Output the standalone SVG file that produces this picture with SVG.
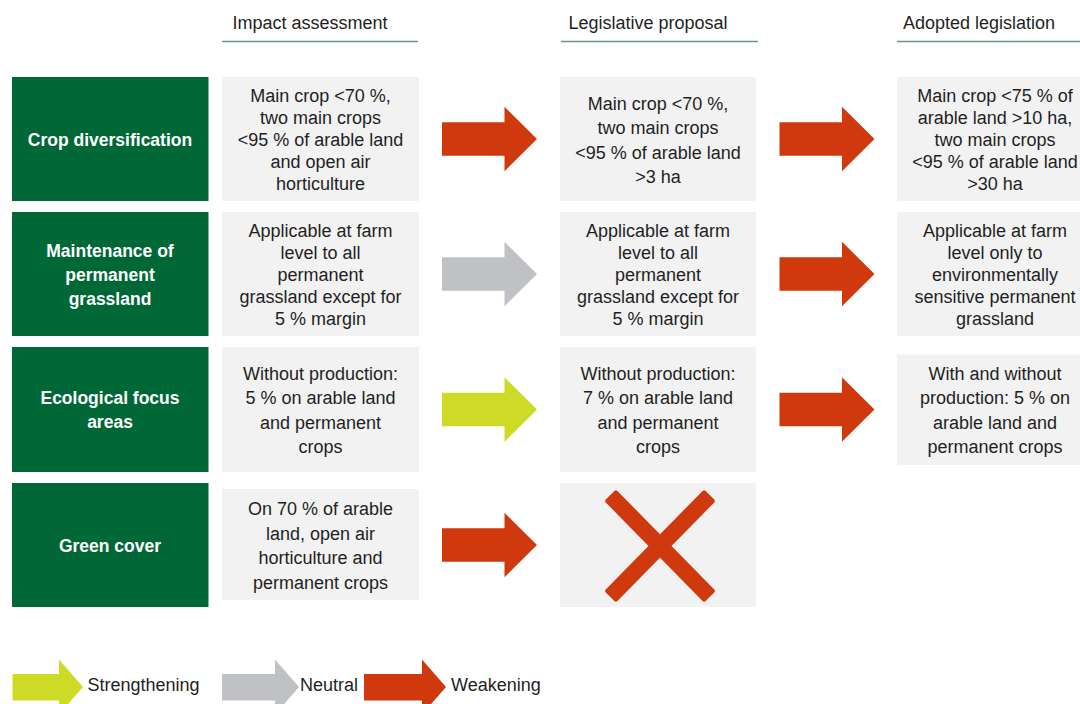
<svg xmlns="http://www.w3.org/2000/svg" xmlns:xlink="http://www.w3.org/1999/xlink" width="1080" height="704" viewBox="0 0 1080 704">
<style>
.hdr{font-family:"Liberation Sans",Arial,sans-serif;font-size:18px;fill:#1f1f1f;text-anchor:middle}
.uline{stroke:#5f9f7f;stroke-width:1.5}
.gbox{fill:#006837}
.glab{font-family:"Liberation Sans",Arial,sans-serif;font-size:17.5px;font-weight:bold;fill:#ffffff;text-anchor:middle}
.box{fill:#f2f2f2}
.txt{font-family:"Liberation Sans",Arial,sans-serif;font-size:18px;fill:#1f1f1f;text-anchor:middle}
.red{fill:#d0390d}
.gray{fill:#c0c1c4}
.lime{fill:#cddb27}
.leg{font-family:"Liberation Sans",Arial,sans-serif;font-size:18px;fill:#1f1f1f}
</style>
<defs>
<path id="arr" d="M0,-16.7 H62.5 V-32.2 L95,0 L62.5,32.2 V16.7 H0 Z"/>
</defs>
<rect width="1080" height="704" fill="#ffffff"/>

<g id="headers">
<text class="hdr" x="310" y="29">Impact assessment</text>
<line class="uline" x1="222" y1="41.5" x2="418" y2="41.5"/>
<text class="hdr" x="648" y="29">Legislative proposal</text>
<line class="uline" x1="561" y1="41.5" x2="758" y2="41.5"/>
<text class="hdr" x="979" y="29">Adopted legislation</text>
<line class="uline" x1="897" y1="41.5" x2="1093" y2="41.5"/>
</g>

<g id="crop-diversification">
<rect class="gbox" x="12" y="77" width="196.5" height="124"/>
<text class="glab" x="110" y="145.5">Crop diversification</text>
</g>
<g id="permanent-grassland">
<rect class="gbox" x="12" y="212" width="196.5" height="124"/>
<text class="glab" x="110" y="256.5">Maintenance of</text>
<text class="glab" x="110" y="280.5">permanent</text>
<text class="glab" x="110" y="304.5">grassland</text>
</g>
<g id="ecological-focus-areas">
<rect class="gbox" x="12" y="347" width="196.5" height="125"/>
<text class="glab" x="110" y="404">Ecological focus</text>
<text class="glab" x="110" y="428">areas</text>
</g>
<g id="green-cover">
<rect class="gbox" x="12" y="483" width="196.5" height="124"/>
<text class="glab" x="110" y="551.5">Green cover</text>
</g>

<g id="ia-crop">
<rect class="box" x="222" y="77" width="197" height="124"/>
<text class="txt" x="320.5" y="101.5">Main crop &lt;70 %,</text>
<text class="txt" x="320.5" y="123.5">two main crops</text>
<text class="txt" x="320.5" y="145.5">&lt;95 % of arable land</text>
<text class="txt" x="320.5" y="167.5">and open air</text>
<text class="txt" x="320.5" y="189.5">horticulture</text>
</g>
<g id="lp-crop">
<rect class="box" x="560" y="77" width="196" height="124"/>
<text class="txt" x="658" y="109.5">Main crop &lt;70 %,</text>
<text class="txt" x="658" y="134">two main crops</text>
<text class="txt" x="658" y="158.5">&lt;95 % of arable land</text>
<text class="txt" x="658" y="183">&gt;3 ha</text>
</g>
<g id="al-crop">
<rect class="box" x="897" y="77" width="196" height="124"/>
<text class="txt" x="995" y="101.5">Main crop &lt;75 % of</text>
<text class="txt" x="995" y="123.5">arable land &gt;10 ha,</text>
<text class="txt" x="995" y="145.5">two main crops</text>
<text class="txt" x="995" y="167.5">&lt;95 % of arable land</text>
<text class="txt" x="995" y="189.5">&gt;30 ha</text>
</g>

<g id="ia-grass">
<rect class="box" x="222" y="212" width="197" height="124"/>
<text class="txt" x="320.5" y="236.5">Applicable at farm</text>
<text class="txt" x="320.5" y="258.5">level to all</text>
<text class="txt" x="320.5" y="280.5">permanent</text>
<text class="txt" x="320.5" y="302.5">grassland except for</text>
<text class="txt" x="320.5" y="324.5">5 % margin</text>
</g>
<g id="lp-grass">
<rect class="box" x="560" y="212" width="196" height="124"/>
<text class="txt" x="658" y="236.5">Applicable at farm</text>
<text class="txt" x="658" y="258.5">level to all</text>
<text class="txt" x="658" y="280.5">permanent</text>
<text class="txt" x="658" y="302.5">grassland except for</text>
<text class="txt" x="658" y="324.5">5 % margin</text>
</g>
<g id="al-grass">
<rect class="box" x="897" y="212" width="196" height="124"/>
<text class="txt" x="995" y="236.5">Applicable at farm</text>
<text class="txt" x="995" y="258.5">level only to</text>
<text class="txt" x="995" y="280.5">environmentally</text>
<text class="txt" x="995" y="302.5">sensitive permanent</text>
<text class="txt" x="995" y="324.5">grassland</text>
</g>

<g id="ia-efa">
<rect class="box" x="222" y="347" width="197" height="125"/>
<text class="txt" x="320.5" y="379.5">Without production:</text>
<text class="txt" x="320.5" y="404">5 % on arable land</text>
<text class="txt" x="320.5" y="428.5">and permanent</text>
<text class="txt" x="320.5" y="453">crops</text>
</g>
<g id="lp-efa">
<rect class="box" x="560" y="347" width="196" height="125"/>
<text class="txt" x="658" y="379.5">Without production:</text>
<text class="txt" x="658" y="404">7 % on arable land</text>
<text class="txt" x="658" y="428.5">and permanent</text>
<text class="txt" x="658" y="453">crops</text>
</g>
<g id="al-efa">
<rect class="box" x="897" y="354.5" width="196" height="110.5"/>
<text class="txt" x="995" y="379.5">With and without</text>
<text class="txt" x="995" y="404">production: 5 % on</text>
<text class="txt" x="995" y="428.5">arable land and</text>
<text class="txt" x="995" y="453">permanent crops</text>
</g>

<g id="ia-cover">
<rect class="box" x="222" y="489" width="197" height="111"/>
<text class="txt" x="320.5" y="515">On 70 % of arable</text>
<text class="txt" x="320.5" y="539.5">land, open air</text>
<text class="txt" x="320.5" y="564">horticulture and</text>
<text class="txt" x="320.5" y="588.5">permanent crops</text>
</g>
<g id="lp-cover">
<rect class="box" x="560" y="483" width="196" height="124"/>
<g class="red">
<rect x="588.75" y="537.8" width="142.5" height="16.4" rx="2.5" transform="rotate(45.5 660 546)"/>
<rect x="588.75" y="537.8" width="142.5" height="16.4" rx="2.5" transform="rotate(-45.5 660 546)"/>
</g>
</g>

<g id="connectors">
<use xlink:href="#arr" x="442" y="139" class="red"/>
<use xlink:href="#arr" x="779.5" y="139" class="red"/>
<use xlink:href="#arr" x="442" y="274" class="gray"/>
<use xlink:href="#arr" x="779.5" y="274" class="red"/>
<use xlink:href="#arr" x="442" y="409.5" class="lime"/>
<use xlink:href="#arr" x="779.5" y="409.5" class="red"/>
<use xlink:href="#arr" x="442" y="545" class="red"/>
</g>

<g id="legend">
<path class="lime" d="M12.5,674 H59 V659.5 L83,687 L59,714.5 V700.5 H12.5 Z"/>
<text class="leg" x="87.5" y="691">Strengthening</text>
<path class="gray" d="M222,674 H275 V659.5 L299,687 L275,714.5 V700.5 H222 Z"/>
<text class="leg" x="300" y="691">Neutral</text>
<path class="red" d="M364,674 H422 V659.5 L446,687 L422,714.5 V700.5 H364 Z"/>
<text class="leg" x="451" y="691">Weakening</text>
</g>
</svg>
